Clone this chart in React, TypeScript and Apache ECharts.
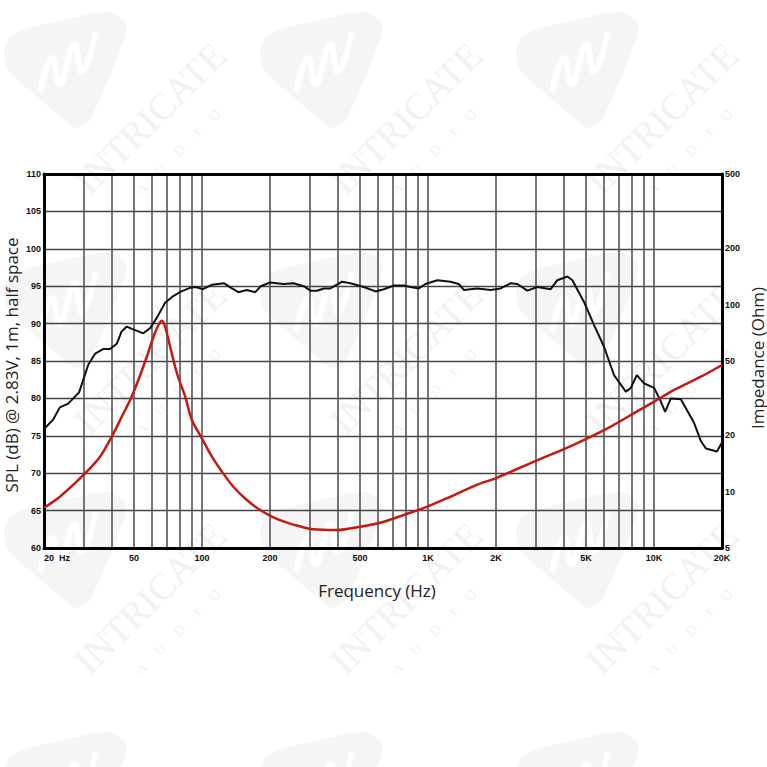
import React, { useEffect, useRef } from "react";
import * as echarts from "echarts";

// ---- Data ----
const splFreq = [
  20, 22, 23.5, 25.6, 28.6, 31.4, 33.7, 36.5, 39.2, 42, 44, 46.5, 49, 52, 55, 59, 63.2, 68.7, 74, 81, 89, 94,
  101, 111, 125, 134, 145, 158, 172, 182, 200, 230, 254, 282, 302, 323, 346, 370, 417, 454, 520, 586, 638,
  706, 782, 837, 911, 975, 1100, 1258, 1369, 1441, 1653, 1893, 2096, 2322, 2486, 2753, 3048, 3491, 3738,
  4140, 4356, 4903, 5431, 6012, 6660, 7505, 7898, 8395, 9040, 10016, 10646, 11204, 11876, 13150, 15060,
  16126, 16972, 18986, 20000,
];
const splDb = [
  75.9, 77.2, 78.8, 79.3, 80.8, 84.5, 86.0, 86.6, 86.6, 87.3, 88.9, 89.6, 89.3, 89.0, 88.7, 89.4, 90.8, 92.8,
  93.6, 94.3, 94.8, 94.9, 94.6, 95.2, 95.4, 94.8, 94.2, 94.5, 94.2, 95.0, 95.5, 95.3, 95.4, 95.0, 94.4, 94.4,
  94.7, 94.7, 95.6, 95.4, 94.9, 94.3, 94.6, 95.1, 95.1, 94.9, 94.7, 95.3, 95.8, 95.6, 95.3, 94.5, 94.7, 94.5,
  94.7, 95.4, 95.3, 94.4, 94.9, 94.6, 95.8, 96.3, 95.8, 92.9, 89.8, 86.9, 83.1, 80.9, 81.4, 83.1, 82.0, 81.4,
  79.8, 78.2, 80.0, 79.9, 76.7, 74.3, 73.3, 72.9, 74.1,
];

const impFreq = [
  20, 23.5, 29.9, 35.4, 39.9, 44.2, 48.1, 52.3, 57.0, 61.0, 64.2, 66.4, 68.7, 72.3, 77.5, 84.3, 90.2, 99.9,
  110.7, 122.6, 138, 158, 181, 207, 238, 268, 310, 396, 502, 637, 781, 992, 1258, 1653, 2027, 2944, 3999,
  5077, 6440, 8166, 10016, 12282, 16126, 20000,
];
const impOhm = [
  8.2, 9.4, 12.3, 15.4, 19.7, 25.2, 30.9, 39.6, 52.7, 67.4, 77.9, 82.1, 76.3, 59.6, 43.0, 32.2, 24.2, 19.3,
  15.4, 12.8, 10.6, 9.03, 7.98, 7.3, 6.83, 6.55, 6.3, 6.24, 6.5, 6.91, 7.51, 8.32, 9.4, 10.9, 11.9, 14.5,
  16.9, 19.3, 22.3, 26.3, 30.3, 35.0, 41.2, 47.6,
];

const freqGridLines = [30, 40, 50, 60, 70, 80, 90, 100, 200, 300, 400, 500, 600, 700, 800, 900, 1000, 2000, 3000, 4000, 5000, 6000, 7000, 8000, 9000, 10000];
const freqTickValues = [20, 50, 100, 200, 500, 1000, 2000, 5000, 10000, 20000];
const freqTickLabels = ["20  Hz", "50", "100", "200", "500", "1K", "2K", "5K", "10K", "20K"];
const impTickValues = [5, 10, 20, 50, 100, 200, 500];
const impTickLabels = ["5", "10", "20", "50", "100", "200", "500"];

const L = (v: number) => Math.log10(v);

function nearestLabel(v: number, vals: number[], labels: string[]) {
  let best = 0;
  let bd = Infinity;
  vals.forEach((f, i) => {
    const d = Math.abs(L(f) - v);
    if (d < bd) {
      bd = d;
      best = i;
    }
  });
  return labels[best];
}

const tickFont = {
  fontFamily: "'Liberation Sans', Arial, sans-serif",
  fontWeight: "bold" as const,
  fontSize: 9,
  color: "#111",
};

function watermark() {
  const els: any[] = [];
  for (let i = 0; i < 3; i++) {
    for (let j = 0; j < 4; j++) {
      const ox = 256 * i;
      const oy = 240 * j;
      els.push({
        type: "polygon",
        z: -10,
        silent: true,
        shape: {
          points: [
            [ox + 4, oy + 56],
            [ox + 10, oy + 36],
            [ox + 30, oy + 28],
            [ox + 108, oy + 12],
            [ox + 126, oy + 24],
            [ox + 122, oy + 44],
            [ox + 90, oy + 120],
            [ox + 76, oy + 128],
            [ox + 62, oy + 118],
            [ox + 10, oy + 72],
          ],
          smooth: 0.25,
        },
        style: { fill: "#f5f5f5" },
      });
      els.push({
        type: "polyline",
        z: -9,
        silent: true,
        shape: {
          points: [
            [ox + 40, oy + 92],
            [ox + 52, oy + 58],
            [ox + 60, oy + 84],
            [ox + 74, oy + 44],
            [ox + 82, oy + 72],
            [ox + 96, oy + 32],
          ],
          smooth: 0.5,
        },
        style: { stroke: "#ffffff", lineWidth: 6, fill: "none" },
      });
      if (j < 3) {
        els.push({
          type: "text",
          z: -9,
          silent: true,
          x: ox + 150,
          y: oy + 118,
          rotation: Math.PI / 4,
          style: {
            text: "INTRICATE",
            font: "38px 'Liberation Serif', serif",
            fill: "#f1f1f1",
            align: "center",
            verticalAlign: "middle",
          },
        });
        els.push({
          type: "text",
          z: -9,
          silent: true,
          x: ox + 178,
          y: oy + 152,
          rotation: Math.PI / 4,
          style: {
            text: "A     U     D     I     O",
            font: "14px 'Liberation Serif', serif",
            fill: "#f1f1f1",
            align: "center",
            verticalAlign: "middle",
          },
        });
      }
    }
  }
  return els;
}

export default function App() {
  const ref = useRef<HTMLDivElement>(null);
  useEffect(() => {
    if (!ref.current) return;
    const chart = echarts.init(ref.current, undefined, { renderer: "svg" });
    const xMin = L(20);
    const xMax = L(20000);
    const option: any = {
      animation: false,
      backgroundColor: "#ffffff",
      grid: { left: 44, right: 45, top: 174, bottom: 219, containLabel: false },
      xAxis: [
        {
          type: "value",
          min: xMin,
          max: xMax,
          position: "bottom",
          axisLine: { show: true, onZero: false, lineStyle: { color: "#000", width: 3 } },
          axisTick: { show: false, customValues: freqGridLines.map(L) },
          splitLine: { show: true, lineStyle: { color: "#555", width: 1.6 } },
          axisLabel: {
            ...tickFont,
            margin: 5,
            customValues: freqTickValues.map(L),
            alignMinLabel: "left",
            formatter: (v: number) => nearestLabel(v, freqTickValues, freqTickLabels),
          },
        },
        {
          type: "value",
          min: xMin,
          max: xMax,
          position: "top",
          axisLine: { show: true, onZero: false, lineStyle: { color: "#000", width: 3 } },
          axisTick: { show: false },
          axisLabel: { show: false },
          splitLine: { show: false },
        },
      ],
      yAxis: [
        {
          type: "value",
          min: 60,
          max: 110,
          interval: 5,
          position: "left",
          axisLine: { show: true, onZero: false, lineStyle: { color: "#000", width: 3 } },
          axisTick: { show: false },
          splitLine: { show: true, lineStyle: { color: "#444", width: 1.3 } },
          axisLabel: { ...tickFont, margin: 3 },
        },
        {
          type: "value",
          min: L(5),
          max: L(500),
          position: "right",
          axisLine: { show: true, onZero: false, lineStyle: { color: "#000", width: 3 } },
          axisTick: { show: false, customValues: impTickValues.map(L) },
          splitLine: { show: false },
          axisLabel: {
            ...tickFont,
            margin: 3,
            customValues: impTickValues.map(L),
            formatter: (v: number) => nearestLabel(v, impTickValues, impTickLabels),
          },
        },
      ],
      series: [
        {
          type: "line",
          name: "SPL",
          xAxisIndex: 0,
          yAxisIndex: 0,
          showSymbol: false,
          symbol: "none",
          lineStyle: { color: "#111", width: 2 },
          data: splFreq.map((f, i) => [L(f), splDb[i]]),
          z: 3,
        },
        {
          type: "line",
          name: "Impedance",
          xAxisIndex: 0,
          yAxisIndex: 1,
          showSymbol: false,
          symbol: "none",
          smooth: 0.3,
          lineStyle: { color: "#c41a0f", width: 2.5 },
          data: impFreq.map((f, i) => [L(f), L(impOhm[i])]),
          z: 4,
        },
      ],
      graphic: [
        ...watermark(),
        {
          type: "text",
          x: 11,
          y: 365,
          rotation: Math.PI / 2,
          style: {
            text: "SPL (dB) @ 2.83V, 1m, half space",
            font: "17px 'Open Sans', sans-serif",
            fill: "#222",
            align: "center",
            verticalAlign: "middle",
          },
        },
        {
          type: "text",
          x: 757,
          y: 358,
          rotation: Math.PI / 2,
          style: {
            text: "Impedance (Ohm)",
            font: "17px 'Open Sans', sans-serif",
            fill: "#222",
            align: "center",
            verticalAlign: "middle",
          },
        },
        {
          type: "text",
          x: 377,
          y: 590,
          style: {
            text: "Frequency (Hz)",
            font: "17px 'Open Sans', sans-serif",
            fill: "#222",
            align: "center",
            verticalAlign: "middle",
          },
        },
      ],
    };
    chart.setOption(option);
    return () => chart.dispose();
  }, []);
  return (
    <div
      ref={ref}
      style={{ position: "fixed", left: 0, top: 0, width: 767, height: 767, background: "#fff" }}
    />
  );
}
